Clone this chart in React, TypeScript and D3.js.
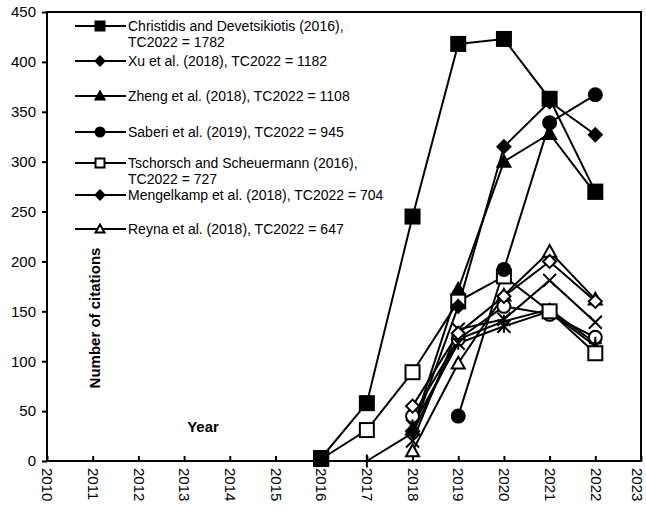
import React, { useEffect, useRef } from 'react';
import * as d3 from 'd3';

// years on the x axis
const years = [2016, 2017, 2018, 2019, 2020, 2021, 2022];

// series values (null = no point)
const christidis = [3, 58, 245, 418, 423, 363, 270];
const xu = [null, null, 30, 155, 315, 360, 327];
const zheng = [null, null, 32, 172, 300, 328, 268];
const saberi = [null, null, null, 45, 192, 339, 367];
const tschorsch = [2, 31, 89, 160, 185, 150, 108];
const mengelkamp = [null, null, 55, 128, 165, 200, 160];
const reyna = [null, null, 10, 98, 166, 210, 162];
const crossSeries = [null, null, 20, 132, 142, 181, 139];
const starSeries = [null, null, 35, 118, 135, 150, 115];
const plusSeries = [null, 0, 28, 122, 140, 152, 118];
const openCircle = [null, null, 45, 122, 155, 147, 124];

const legendLabels = [
  ['Christidis and Devetsikiotis (2016),', 'TC2022 = 1782'],
  ['Xu et al. (2018), TC2022 = 1182'],
  ['Zheng et al. (2018), TC2022 = 1108'],
  ['Saberi et al. (2019), TC2022 = 945'],
  ['Tschorsch and Scheuermann (2016),', 'TC2022 = 727'],
  ['Mengelkamp et al. (2018), TC2022 = 704'],
  ['Reyna et al. (2018), TC2022 = 647'],
];

const series = [
  { values: openCircle, marker: 'circle', fill: 'white' },
  { values: plusSeries, marker: 'plus', fill: 'none' },
  { values: starSeries, marker: 'star', fill: 'none' },
  { values: crossSeries, marker: 'cross', fill: 'none' },
  { values: reyna, marker: 'triangle', fill: 'white' },
  { values: mengelkamp, marker: 'diamond', fill: 'white' },
  { values: tschorsch, marker: 'square', fill: 'white' },
  { values: saberi, marker: 'circle', fill: 'black' },
  { values: zheng, marker: 'triangle', fill: 'black' },
  { values: xu, marker: 'diamond', fill: 'black' },
  { values: christidis, marker: 'square', fill: 'black' },
];

const legendMarkers = [
  { marker: 'square', fill: 'black' },
  { marker: 'diamond', fill: 'black' },
  { marker: 'triangle', fill: 'black' },
  { marker: 'circle', fill: 'black' },
  { marker: 'square', fill: 'white' },
  { marker: 'diamond', fill: 'black' },
  { marker: 'triangle', fill: 'white' },
];

function drawMarker(g: any, type: string, fill: string, s: number) {
  const h = s / 2;
  if (type === 'square') {
    g.append('rect').attr('x', -h).attr('y', -h).attr('width', s).attr('height', s)
      .attr('fill', fill).attr('stroke', 'black').attr('stroke-width', 2);
  } else if (type === 'circle') {
    g.append('circle').attr('r', h).attr('fill', fill).attr('stroke', 'black').attr('stroke-width', 2);
  } else if (type === 'diamond') {
    g.append('path').attr('d', `M0,${-h}L${h},0L0,${h}L${-h},0Z`)
      .attr('fill', fill).attr('stroke', 'black').attr('stroke-width', 2);
  } else if (type === 'triangle') {
    g.append('path').attr('d', `M0,${-h}L${h},${h * 0.8}L${-h},${h * 0.8}Z`)
      .attr('fill', fill).attr('stroke', 'black').attr('stroke-width', 2);
  } else if (type === 'cross') {
    g.append('path').attr('d', `M${-h},${-h}L${h},${h}M${h},${-h}L${-h},${h}`)
      .attr('stroke', 'black').attr('stroke-width', 2);
  } else if (type === 'plus') {
    g.append('path').attr('d', `M${-h},0L${h},0M0,${-h}L0,${h}`)
      .attr('stroke', 'black').attr('stroke-width', 2);
  } else if (type === 'star') {
    g.append('path').attr('d', `M${-h},${-h}L${h},${h}M${h},${-h}L${-h},${h}M0,${-h}L0,${h}`)
      .attr('stroke', 'black').attr('stroke-width', 2);
  }
}

export default function App() {
  const svgRef = useRef<SVGSVGElement>(null);

  useEffect(() => {
    const svg = d3.select(svgRef.current);
    svg.selectAll('*').remove();

    const left = 47, right = 641, top = 12, bottom = 461;
    const x = d3.scaleLinear().domain([2010, 2023]).range([left, right]);
    const y = d3.scaleLinear().domain([0, 450]).range([bottom, top]);
    const font = 'Liberation Sans, Arial, sans-serif';

    // frame
    svg.append('rect').attr('x', left).attr('y', top).attr('width', right - left).attr('height', bottom - top)
      .attr('fill', 'none').attr('stroke', 'black').attr('stroke-width', 2);

    // y axis
    const yAxis = svg.append('g').attr('transform', `translate(${left},0)`)
      .call(d3.axisLeft(y).tickValues(d3.range(0, 451, 50)).tickSize(5).tickPadding(6));
    yAxis.select('.domain').remove();
    yAxis.selectAll('line').attr('stroke', 'black').attr('stroke-width', 2);
    yAxis.selectAll('text').attr('font-family', font).attr('font-size', 15).attr('fill', 'black');

    // x axis
    const xAxis = svg.append('g').attr('transform', `translate(0,${bottom})`)
      .call(d3.axisBottom(x).tickValues(d3.range(2010, 2024)).tickFormat(d3.format('d')).tickSize(-5).tickPadding(0));
    xAxis.select('.domain').remove();
    xAxis.selectAll('line').attr('stroke', 'black').attr('stroke-width', 2);
    xAxis.selectAll('text').attr('font-family', font).attr('font-size', 15).attr('fill', 'black')
      .attr('transform', 'rotate(90)').attr('x', 7)
      .attr('y', (d: any) => (d === 2023 ? 4 : 0)).attr('dy', '0.35em')
      .attr('text-anchor', 'start');

    // series
    const line = d3.line<any>().defined(d => d[1] != null).x(d => x(d[0])).y(d => y(d[1]));
    series.forEach(s => {
      const pts = years.map((yr, i) => [yr, s.values[i]]);
      svg.append('path').attr('d', line(pts)).attr('fill', 'none')
        .attr('stroke', 'black').attr('stroke-width', 2);
    });
    series.forEach(s => {
      const size = s.marker === 'square' ? 14 : 13;
      years.forEach((yr, i) => {
        const v = s.values[i];
        if (v == null) return;
        const g = svg.append('g').attr('transform', `translate(${x(yr)},${y(v)})`);
        drawMarker(g, s.marker, s.fill, size);
      });
    });

    // legend
    const legendY = [26, 61, 96, 132, 163, 195, 229];
    legendLabels.forEach((lbl, i) => {
      const ly = legendY[i];
      svg.append('line').attr('x1', 75).attr('x2', 126).attr('y1', ly).attr('y2', ly)
        .attr('stroke', 'black').attr('stroke-width', 2);
      const g = svg.append('g').attr('transform', `translate(100,${ly})`);
      drawMarker(g, legendMarkers[i].marker, legendMarkers[i].fill, 9);
      lbl.forEach((t, j) => {
        svg.append('text').attr('x', 128).attr('y', ly + j * 16).attr('dy', '0.35em')
          .attr('font-family', font).attr('font-size', 14).text(t);
      });
    });

    // axis titles
    svg.append('text').attr('transform', 'translate(95,318) rotate(-90)')
      .attr('text-anchor', 'middle').attr('dy', '0.35em')
      .attr('font-family', font).attr('font-size', 15).attr('font-weight', 'bold')
      .text('Number of citations');
    svg.append('text').attr('x', 203).attr('y', 427).attr('text-anchor', 'middle').attr('dy', '0.35em')
      .attr('font-family', font).attr('font-size', 15).attr('font-weight', 'bold')
      .text('Year');
  }, []);

  return (
    <svg ref={svgRef} width={646} height={511}
      style={{ position: 'absolute', left: 0, top: 0, background: 'white' }} />
  );
}
